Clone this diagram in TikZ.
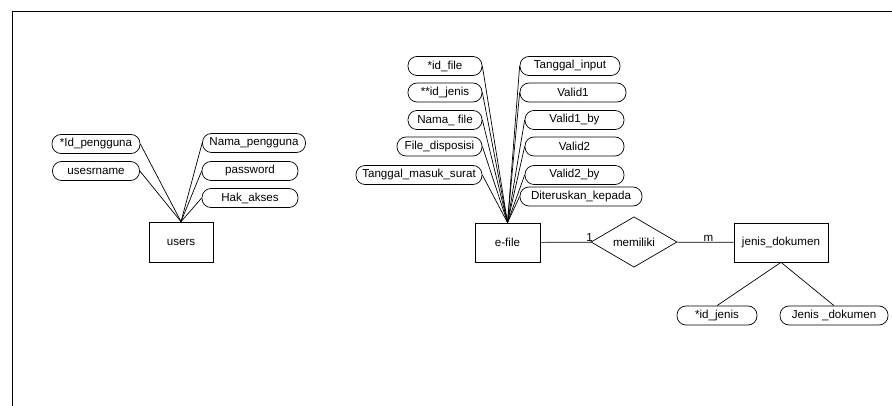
\documentclass[tikz,border=0pt]{standalone}
\usepackage{fontspec}
\setmainfont{Liberation Sans}
\usetikzlibrary{shapes.geometric}

\begin{document}
\begin{tikzpicture}[x=1pt,y=-1pt,
	attr/.style={draw, rounded corners=9pt, minimum height=19pt, inner sep=0pt},
	entity/.style={draw, minimum width=64pt, minimum height=40pt, inner sep=0pt},
	relasi/.style={draw, diamond, minimum width=86pt, minimum height=50pt, inner sep=0pt},
	every node/.append style={font=\fontsize{11.6}{13}\selectfont},
	line width=0.7pt]
	\useasboundingbox (0,0) rectangle (892,406);
	\draw[line width=1pt] (892,12) -- (12,12) -- (12,406);
	
	% users
	\node[entity] (users) at (181,242) {users};
	\node[attr, minimum width=88pt] (idpengguna) at (96,144) {*Id\_pengguna};
	\node[attr, minimum width=87pt] (usesrname) at (96,171) {usesrname};
	\node[attr, minimum width=103pt] (namapengguna) at (254,143) {Nama\_pengguna};
	\node[attr, minimum width=96pt] (password) at (250,171) {password};
	\node[attr, minimum width=96pt] (hakakses) at (250,198) {Hak\_akses};
	
	\draw (idpengguna.east) -- (users.north);
	\draw (usesrname.east) -- (users.north);
	\draw (namapengguna.west) -- (users.north);
	\draw (password.west) -- (users.north);
	\draw (hakakses.west) -- (users.north);
	
	% e-file
	\node[entity, minimum width=65pt, minimum height=39pt] (efile) at (507.5,242.5) {e-file};
	\node[attr, minimum width=74pt] (idfile) at (445,66) {*id\_file};
	\node[attr, minimum width=74pt] (idjenisfk) at (445,92.5) {**id\_jenis};
	\node[attr, minimum width=74pt] (namafile) at (445,120) {Nama\_ file};
	\node[attr, minimum width=85pt] (disposisi) at (439.5,146.5) {File\_disposisi};
	\node[attr, minimum width=126pt] (tglmasuk) at (419,175) {Tanggal\_masuk\_surat};
	\node[attr, minimum width=100pt] (tglinput) at (570,66) {Tanggal\_input};
	\node[attr, minimum width=106pt] (valid1) at (573,92.5) {Valid1};
	\node[attr, minimum width=99pt] (valid1by) at (574.5,120) {Valid1\_by};
	\node[attr, minimum width=99pt] (valid2) at (574.5,146.5) {Valid2};
	\node[attr, minimum width=99pt] (valid2by) at (574.5,175) {Valid2\_by};
	\node[attr, minimum width=122pt] (diteruskan) at (581,196.5) {Diteruskan\_kepada};
	
	\foreach \a in {idfile, idjenisfk, namafile, disposisi, tglmasuk}
		\draw (\a.east) -- (efile.north);
	\foreach \a in {tglinput, valid1, valid1by, valid2, valid2by, diteruskan}
		\draw (\a.west) -- (efile.north);
	
	% relasi
	\node[relasi] (memiliki) at (634,242) {memiliki};
	\node[entity, minimum width=94pt, minimum height=39pt] (jenis) at (781,242.5) {jenis\_dokumen};
	\node[attr, minimum width=80pt] (idjenis) at (717,315.5) {*id\_jenis};
	\node[attr, minimum width=108pt] (namajenis) at (834,315.5) {Jenis \_dokumen};
	
	\draw (efile) -- (memiliki);
	\draw (memiliki) -- (jenis);
	\node[anchor=base, inner sep=0pt] (one) at (589.5,242) {1};
	\node[anchor=base, inner sep=0pt] (many) at (708.5,242) {m};
	
	\draw (jenis.south) -- (idjenis.north);
	\draw (jenis.south) -- (namajenis.north);
\end{tikzpicture}
\end{document}
